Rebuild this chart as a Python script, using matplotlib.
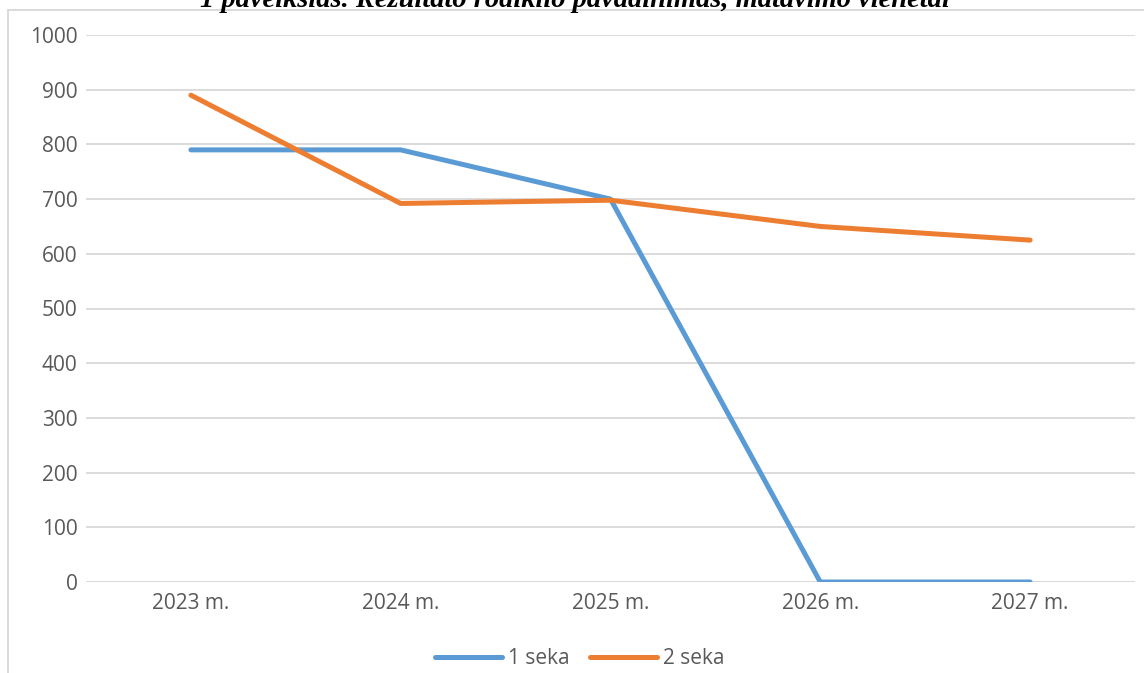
import matplotlib
matplotlib.use("Agg")
import matplotlib.pyplot as plt
from matplotlib.patches import Rectangle
from matplotlib.lines import Line2D

categories = ["2023 m.", "2024 m.", "2025 m.", "2026 m.", "2027 m."]
seka1 = [790, 790, 700, 0, 0]
seka2 = [890, 692, 698, 650, 625]
series_names = ["1 seka", "2 seka"]
title = "1 paveikslas. Rezultato rodiklio pavadinimas, matavimo vienetai"

W, H = 1144, 673
fig = plt.figure(figsize=(W / 100, H / 100), dpi=100)
fig.patch.set_facecolor("white")

ax_left, ax_right = 86 / W, 1135 / W
ax_bottom, ax_top = 1 - 582 / H, 1 - 35 / H
ax = fig.add_axes([ax_left, ax_bottom, ax_right - ax_left, ax_top - ax_bottom])

font = "Open Sans"
tc = "#595959"
blue = "#5B9BD5"
orange = "#ED7D31"
grid = "#D9D9D9"

x = list(range(len(categories)))
ax.plot(x, seka1, color=blue, lw=3.6, solid_capstyle="round", solid_joinstyle="round", zorder=3)
ax.plot(x, seka2, color=orange, lw=3.6, solid_capstyle="round", solid_joinstyle="round", zorder=4)

ax.set_xlim(-0.5, len(categories) - 0.5)
ax.set_ylim(0, 1000)
ax.set_yticks(range(0, 1001, 100))
ax.set_xticks(x)
ax.set_xticklabels(categories)
for s in ax.spines.values():
    s.set_visible(False)
ax.yaxis.grid(True, color=grid, lw=1.3)
ax.set_axisbelow(True)
ax.axhline(0, color=grid, lw=1.3, zorder=1)
ax.tick_params(axis="both", length=0, labelcolor=tc, labelsize=15)
ax.tick_params(axis="y", pad=6)
ax.tick_params(axis="x", pad=8)
for lab in ax.get_xticklabels() + ax.get_yticklabels():
    lab.set_fontfamily(font)

handles = [Line2D([0], [0], color=blue, lw=3.6, solid_capstyle="round"),
           Line2D([0], [0], color=orange, lw=3.6, solid_capstyle="round")]
leg = fig.legend(handles, series_names, loc="center", bbox_to_anchor=(580 / W, 1 - 659 / H),
                 ncol=2, frameon=False, handlelength=3.2, handletextpad=0.3, columnspacing=1.0,
                 prop={"family": font, "size": 15})
for t in leg.get_texts():
    t.set_color(tc)

# chart border (only top and left edges are visible in the frame)
fig.add_artist(Rectangle((8 / W, -0.1), 1.2, 1 - 10 / H + 0.1, transform=fig.transFigure,
                         fill=False, edgecolor=grid, lw=1.4))

fig.text(575 / W, 1 - 7 / H, title, ha="center", va="baseline",
         family="Liberation Serif", fontweight="bold", fontstyle="italic", fontsize=20.5, color="black")

fig.savefig("out.png", dpi=100)
